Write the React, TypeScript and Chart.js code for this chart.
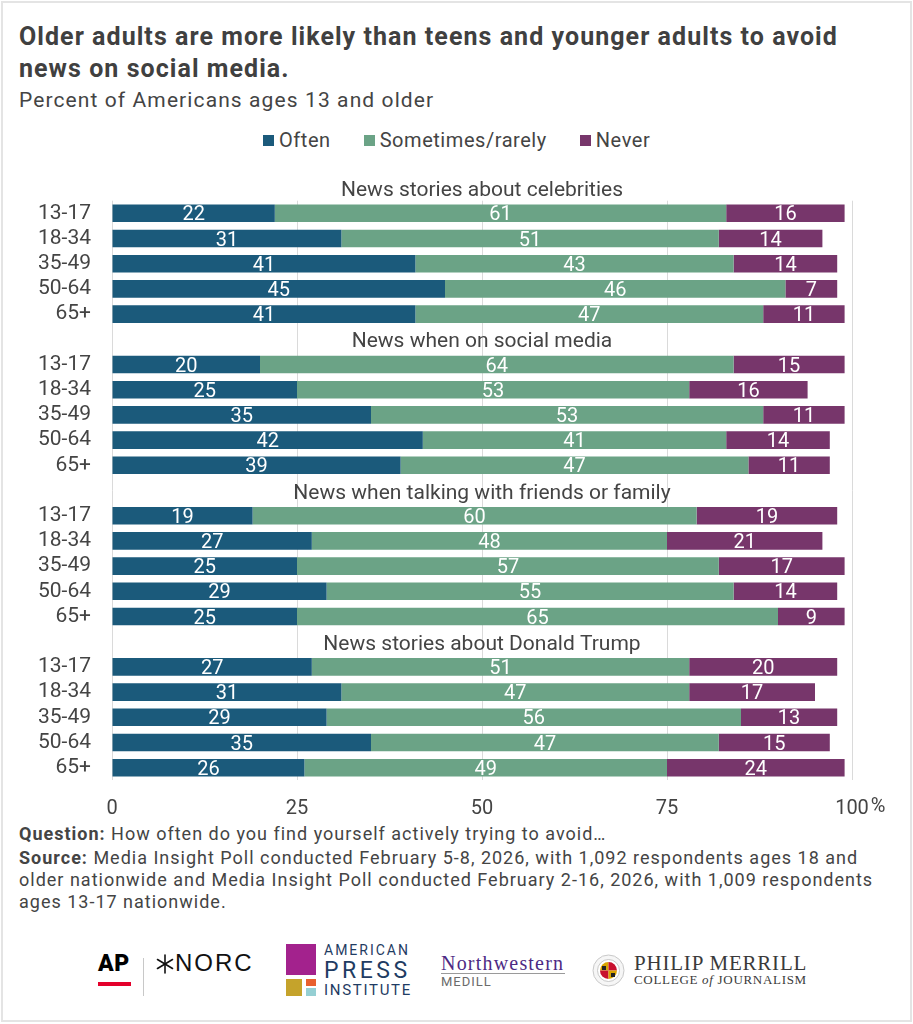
import React, { useEffect, useRef } from "react";
import { Chart, registerables } from "chart.js";

Chart.register(...registerables);

// ---------- data ----------
const groups = [
  "News stories about celebrities",
  "News when on social media",
  "News when talking with friends or family",
  "News stories about Donald Trump",
];
const ages = ["13-17", "18-34", "35-49", "50-64", "65+"];
const seriesNames = ["Often", "Sometimes/rarely", "Never"];
const often = [
  [22, 31, 41, 45, 41],
  [20, 25, 35, 42, 39],
  [19, 27, 25, 29, 25],
  [27, 31, 29, 35, 26],
];
const sometimes = [
  [61, 51, 43, 46, 47],
  [64, 53, 53, 41, 47],
  [60, 48, 57, 55, 65],
  [51, 47, 56, 47, 49],
];
const never = [
  [16, 14, 14, 7, 11],
  [15, 16, 11, 14, 11],
  [19, 21, 17, 14, 9],
  [20, 17, 13, 15, 24],
];
const xTicks = [0, 25, 50, 75, 100];

// ---------- styles ----------
const COLORS = ["#1b5a7b", "#6ba386", "#77366b"];
const TEXT = "#444444";
const FONT = "Roboto";

// build table for the library
const labels: string[] = [];
const titleSlots: { index: number; title: string }[] = [];
const seriesSource = [often, sometimes, never];
const seriesData: (number | null)[][] = [[], [], []];
groups.forEach((g, gi) => {
  if (gi === 0) {
    titleSlots.push({ index: -1, title: g });
  } else {
    titleSlots.push({ index: labels.length, title: g });
    labels.push("");
    seriesData.forEach((s) => s.push(null));
  }
  ages.forEach((a, ai) => {
    labels.push(a);
    seriesData.forEach((s, si) => s.push(seriesSource[si][gi][ai]));
  });
});

const overlayPlugin = {
  id: "overlay",
  afterDatasetsDraw(chart: any) {
    const ctx = chart.ctx;
    const area = chart.chartArea;
    const yScale = chart.scales.y;
    const xScale = chart.scales.x;
    ctx.save();
    // value labels
    ctx.font = `20px ${FONT}`;
    ctx.fillStyle = "#ffffff";
    ctx.textAlign = "center";
    ctx.textBaseline = "alphabetic";
    chart.data.datasets.forEach((ds: any, di: number) => {
      const meta = chart.getDatasetMeta(di);
      meta.data.forEach((el: any, i: number) => {
        const v = ds.data[i];
        if (v === null || v === undefined) return;
        const p = el.getProps(["x", "base", "y"], true);
        ctx.fillText(String(v), (p.x + p.base) / 2, p.y + 7);
      });
    });
    // group titles
    ctx.font = `21px ${FONT}`;
    ctx.fillStyle = TEXT;
    const cx = (area.left + area.right) / 2;
    titleSlots.forEach((t) => {
      ctx.fillText(t.title, cx, yScale.getPixelForValue(t.index) + 8);
    });
    // percent sign after last tick
    ctx.font = `20px ${FONT}`;
    ctx.textAlign = "left";
    ctx.textBaseline = "top";
    const last = xTicks[xTicks.length - 1];
    const w = ctx.measureText(String(last)).width;
    ctx.fillText("%", xScale.getPixelForValue(last) + w / 2 + 2, area.bottom + 17);
    ctx.restore();
  },
};

function BarChart() {
  const ref = useRef<HTMLCanvasElement | null>(null);
  useEffect(() => {
    if (!ref.current) return;
    let chart: Chart | null = null;
    let cancelled = false;
    const make = () => {
      if (cancelled || !ref.current) return;
      chart = new Chart(ref.current, {
        type: "bar",
        data: {
          labels,
          datasets: seriesNames.map((name, i) => ({
            label: name,
            data: seriesData[i],
            backgroundColor: COLORS[i],
            borderWidth: 0,
            barPercentage: 0.7,
            categoryPercentage: 1,
          })),
        },
        options: {
          indexAxis: "y",
          responsive: false,
          animation: false,
          events: [],
          layout: { padding: { top: 40.7, right: 61, left: 0, bottom: 0 } },
          plugins: {
            legend: { display: false },
            tooltip: { enabled: false },
            title: { display: false },
          },
          scales: {
            x: {
              stacked: true,
              min: 0,
              max: 100,
              afterBuildTicks: (scale: any) => {
                scale.ticks = xTicks.map((v) => ({ value: v }));
              },
              afterFit: (scale: any) => {
                scale.height = 39.7;
              },
              grid: { color: "#dadada", lineWidth: 1, drawTicks: false },
              border: { display: false },
              ticks: {
                padding: 17,
                color: TEXT,
                font: { family: FONT, size: 20 },
                callback: (v: any) => String(v),
              },
            },
            y: {
              stacked: true,
              afterFit: (scale: any) => {
                scale.width = 112;
              },
              grid: { display: false, drawTicks: false },
              border: { display: false },
              ticks: {
                autoSkip: false,
                padding: 21,
                color: TEXT,
                font: { family: FONT, size: 21 },
              },
            },
          },
        } as any,
        plugins: [overlayPlugin],
      });
    };
    const fonts: any = (document as any).fonts;
    if (fonts && fonts.load) {
      Promise.all([fonts.load(`20px ${FONT}`), fonts.load(`bold 24px ${FONT}`)])
        .catch(() => null)
        .then(make);
    } else make();
    return () => {
      cancelled = true;
      if (chart) chart.destroy();
    };
  }, []);
  return (
    <canvas
      ref={ref}
      width={913}
      height={660}
      style={{ position: "absolute", left: 0, top: 160, width: 913, height: 660 }}
    />
  );
}

const abs = (o: React.CSSProperties): React.CSSProperties => ({ position: "absolute", ...o });

export default function App() {
  return (
    <div
      style={{
        position: "absolute",
        left: 0,
        top: 0,
        width: 913,
        height: 1024,
        background: "#fff",
        overflow: "hidden",
        fontFamily: FONT,
        color: TEXT,
      }}
    >
      <div style={abs({ left: 1, top: 1, width: 907, height: 1017, border: "2px solid #e4e4e4" })} />
      <div
        style={abs({
          left: 19,
          top: 20.5,
          fontSize: 25,
          fontWeight: 700,
          lineHeight: "32.3px",
          letterSpacing: 1.05,
          whiteSpace: "nowrap",
          color: "#404040",
        })}
      >
        <div>Older adults are more likely than teens and younger adults to avoid</div>
        <div>news on social media.</div>
      </div>
      <div
        style={abs({
          left: 19,
          top: 88,
          fontSize: 21,
          lineHeight: "24px",
          letterSpacing: 1.1,
          whiteSpace: "nowrap",
        })}
      >
        Percent of Americans ages 13 and older
      </div>
      <div
        style={abs({
          left: 263,
          top: 128,
          height: 24,
          display: "flex",
          alignItems: "center",
          gap: 33,
          fontSize: 20,
          lineHeight: "24px",
          letterSpacing: 0.55,
          whiteSpace: "nowrap",
        })}
      >
        {seriesNames.map((n, i) => (
          <div key={n} style={{ display: "flex", alignItems: "center" }}>
            <span style={{ width: 11, height: 11, background: COLORS[i], marginRight: 5, display: "inline-block" }} />
            <span>{n}</span>
          </div>
        ))}
      </div>

      <BarChart />

      <div
        style={abs({
          left: 19,
          top: 823,
          fontSize: 18,
          lineHeight: "22px",
          letterSpacing: 1.0,
          whiteSpace: "nowrap",
        })}
      >
        <div>
          <b>Question:</b> How often do you find yourself actively trying to avoid…
        </div>
        <div style={{ marginTop: 2 }}>
          <b>Source:</b> Media Insight Poll conducted February 5-8, 2026, with 1,092 respondents ages 18 and
        </div>
        <div>older nationwide and Media Insight Poll conducted February 2-16, 2026, with 1,009 respondents</div>
        <div>ages 13-17 nationwide.</div>
      </div>

      {/* logos */}
      <div
        style={abs({
          left: 98,
          top: 952,
          fontSize: 23,
          lineHeight: "23px",
          fontWeight: 900,
          color: "#000",
          letterSpacing: 0.5,
          fontFamily: "Roboto",
        })}
      >
        AP
      </div>
      <div style={abs({ left: 98, top: 982, width: 33, height: 3.5, background: "#e4002b" })} />
      <div style={abs({ left: 143, top: 958, width: 1, height: 38, background: "#c8c8c8" })} />
      <svg style={abs({ left: 156, top: 954, width: 18, height: 20 })} viewBox="0 0 18 20">
        <g stroke="#111" strokeWidth="1.6" strokeLinecap="round">
          <line x1="9" y1="1" x2="9" y2="19" />
          <line x1="1.5" y1="5.5" x2="16.5" y2="14.5" />
          <line x1="1.5" y1="14.5" x2="16.5" y2="5.5" />
        </g>
      </svg>
      <div
        style={abs({
          left: 175,
          top: 951,
          fontSize: 24,
          lineHeight: "24px",
          color: "#111",
          letterSpacing: 2,
          fontFamily: "Liberation Sans",
        })}
      >
        NORC
      </div>

      <div style={abs({ left: 286, top: 944, width: 30, height: 31, background: "#a3228d" })} />
      <div style={abs({ left: 286, top: 979, width: 16, height: 17, background: "#c5a32b" })} />
      <div style={abs({ left: 306, top: 979, width: 9.5, height: 7, background: "#e8602f" })} />
      <div style={abs({ left: 306, top: 987.5, width: 9.5, height: 8.5, background: "#95cfd3" })} />
      <div style={abs({ left: 324, top: 943, fontSize: 14, lineHeight: "14px", letterSpacing: 2, color: "#1f3c63" })}>
        AMERICAN
      </div>
      <div style={abs({ left: 324, top: 958.5, fontSize: 23, lineHeight: "23px", letterSpacing: 3.5, color: "#1f3c63" })}>
        PRESS
      </div>
      <div style={abs({ left: 324, top: 983, fontSize: 15, lineHeight: "15px", letterSpacing: 1.7, color: "#1f3c63" })}>
        INSTITUTE
      </div>

      <div
        style={abs({
          left: 441,
          top: 953,
          fontSize: 20,
          lineHeight: "20px",
          letterSpacing: 1.2,
          color: "#4e2a84",
          fontFamily: "Liberation Serif",
        })}
      >
        Northwestern
      </div>
      <div style={abs({ left: 441, top: 973, width: 124, height: 1, background: "#9a9a9a" })} />
      <div style={abs({ left: 441, top: 975, fontSize: 13, lineHeight: "13px", letterSpacing: 1, color: "#6b6b6b" })}>
        MEDILL
      </div>

      <svg style={abs({ left: 592, top: 954, width: 33, height: 33 })} viewBox="0 0 33 33">
        <circle cx="16.5" cy="16.5" r="15.5" fill="#f6f6f6" stroke="#c9c9c9" strokeWidth="1" />
        <circle cx="16.5" cy="16.5" r="11" fill="#fff" stroke="#bbb" strokeWidth="0.8" />
        <path d="M16.5 8 A8.5 8.5 0 0 0 8 16.5 L16.5 16.5 Z" fill="#d9a400" />
        <path d="M16.5 8 A8.5 8.5 0 0 1 25 16.5 L16.5 16.5 Z" fill="#c8102e" />
        <path d="M8 16.5 A8.5 8.5 0 0 0 16.5 25 L16.5 16.5 Z" fill="#c8102e" />
        <path d="M25 16.5 A8.5 8.5 0 0 1 16.5 25 L16.5 16.5 Z" fill="#d9a400" />
        <path d="M10 12 L14 12 L14 16 L10 16 Z M19 19 L23 19 L23 23 L19 23 Z" fill="#222" />
      </svg>
      <div
        style={abs({
          left: 634,
          top: 953,
          fontSize: 21,
          lineHeight: "21px",
          letterSpacing: 0.8,
          color: "#3a3a3a",
          fontFamily: "Liberation Serif",
          whiteSpace: "nowrap",
        })}
      >
        PHILIP MERRILL
      </div>
      <div
        style={abs({
          left: 634,
          top: 973,
          fontSize: 13,
          lineHeight: "13px",
          letterSpacing: 0.7,
          color: "#3a3a3a",
          fontFamily: "Liberation Serif",
          whiteSpace: "nowrap",
        })}
      >
        COLLEGE <i>of</i> JOURNALISM
      </div>
    </div>
  );
}
